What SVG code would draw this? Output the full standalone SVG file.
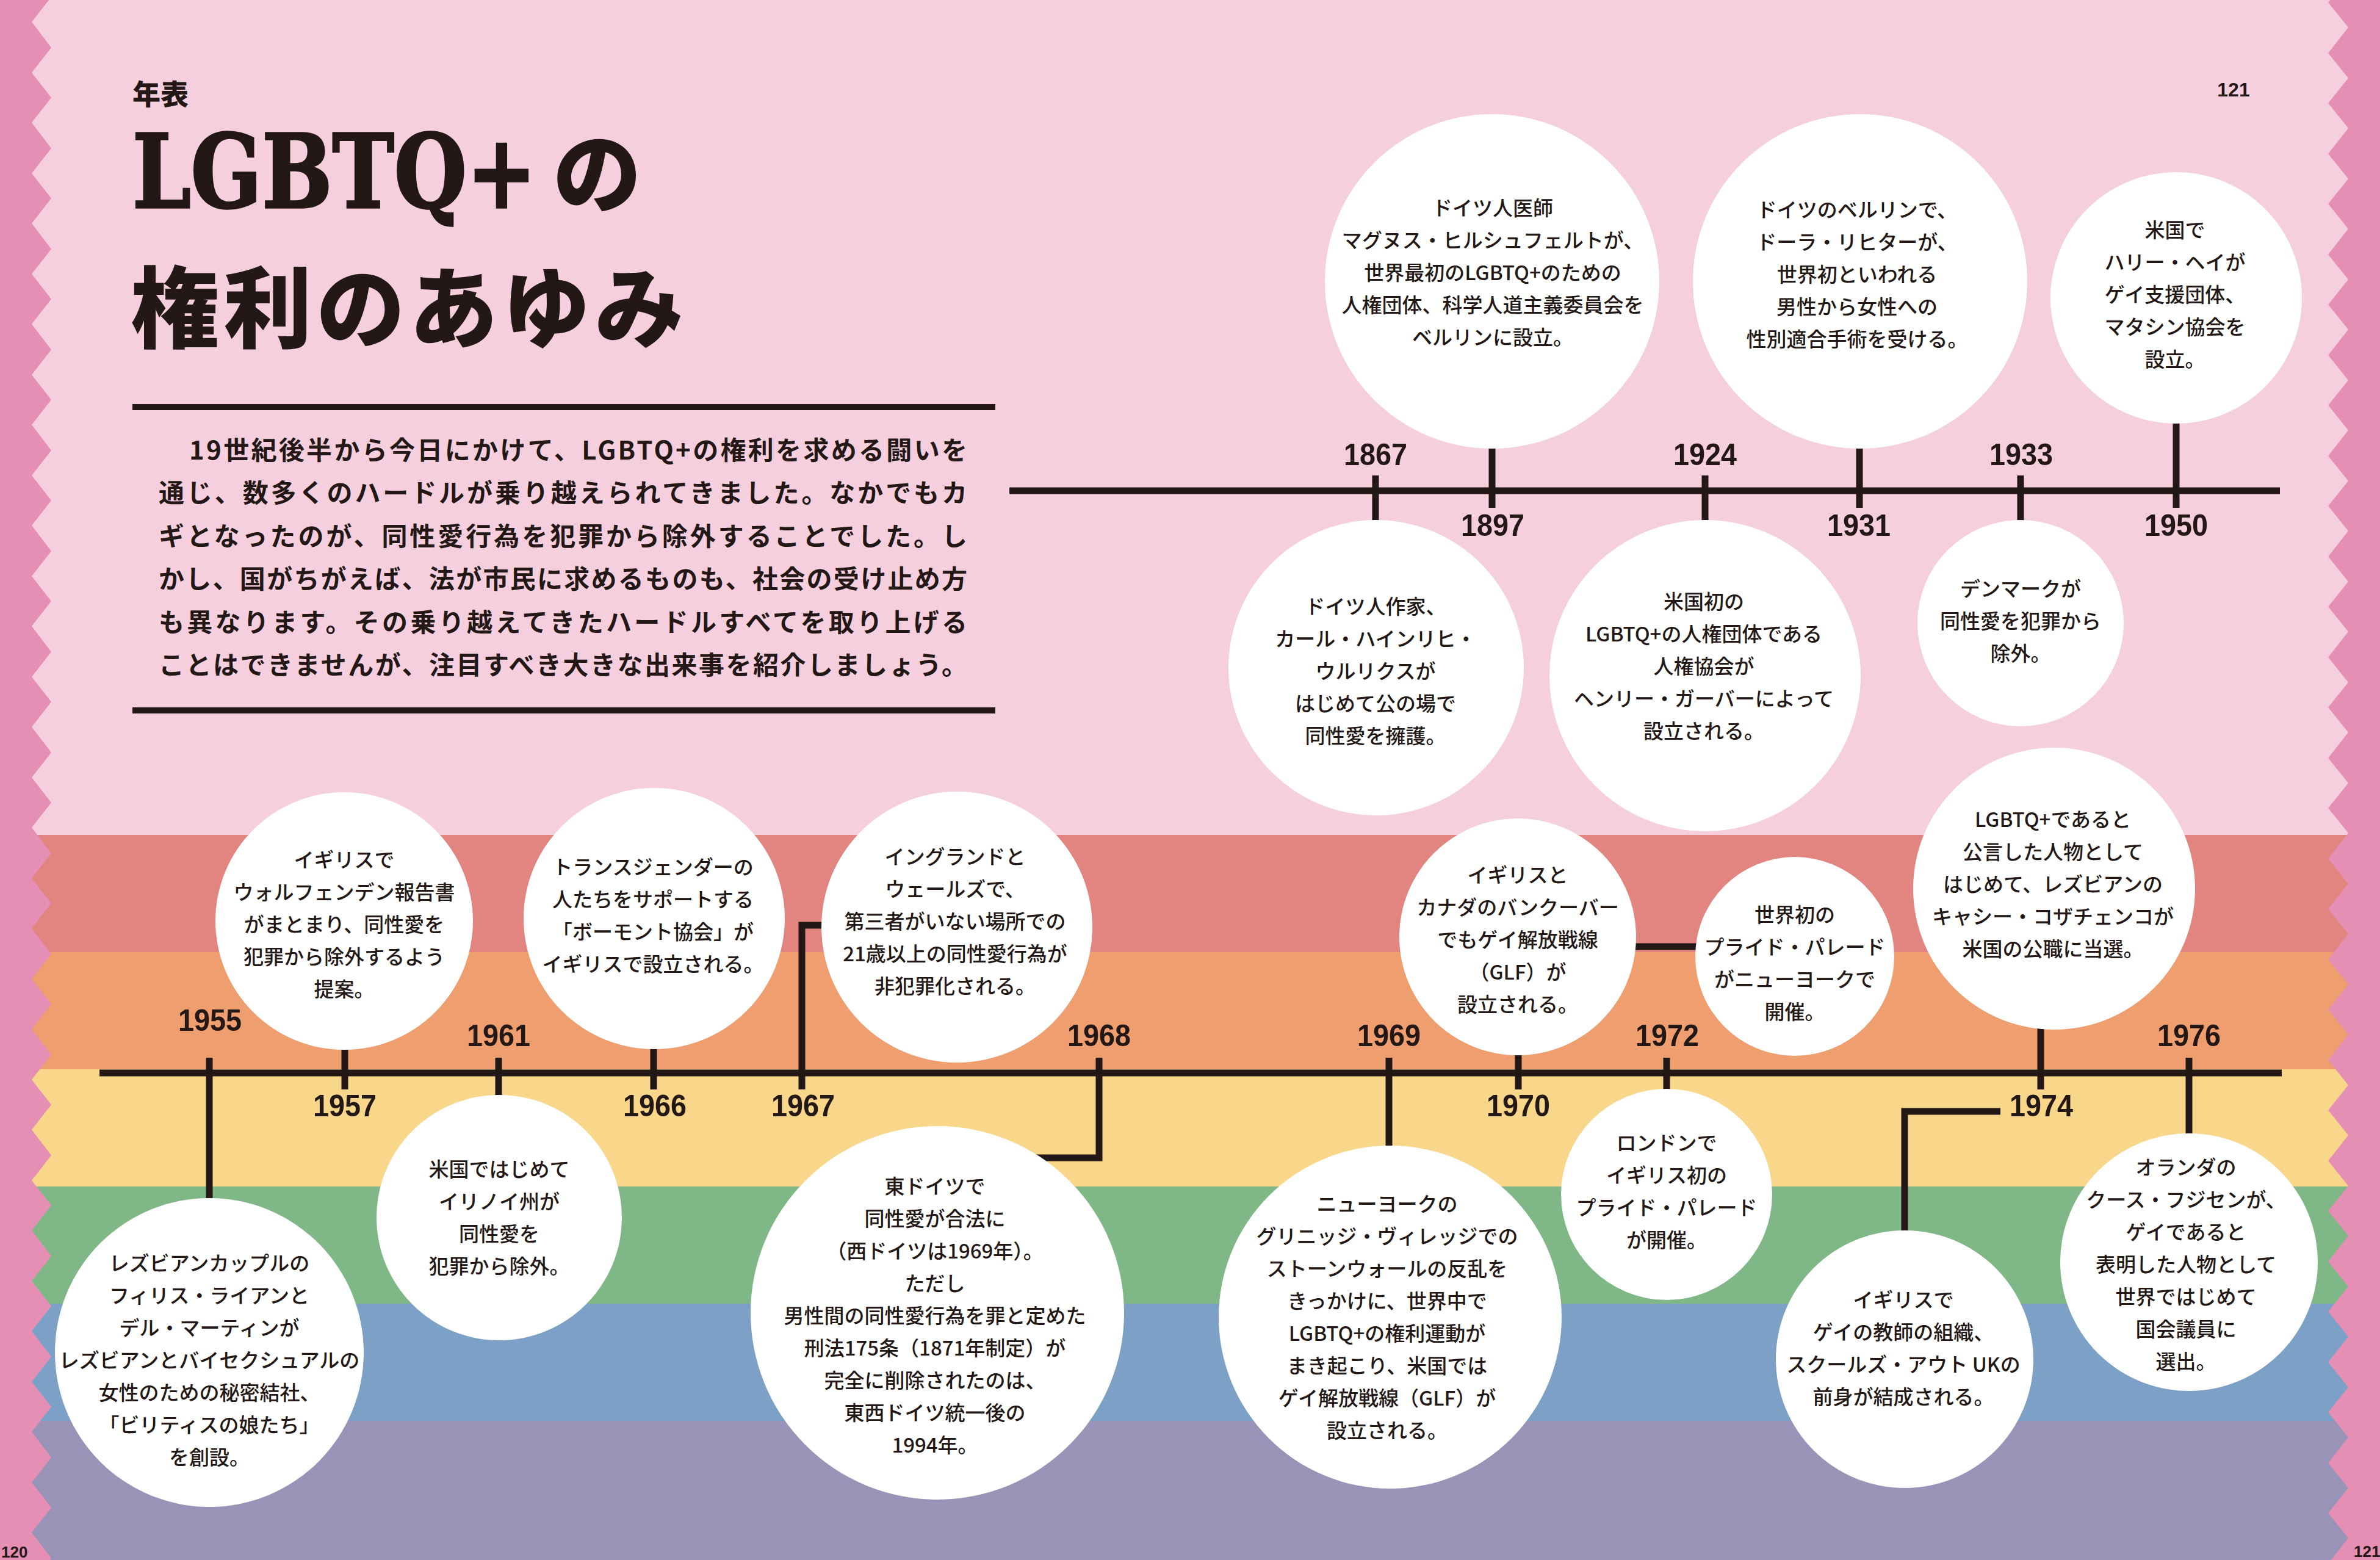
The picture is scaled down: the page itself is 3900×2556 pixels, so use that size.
<svg xmlns="http://www.w3.org/2000/svg" width="3900" height="2556" viewBox="0 0 3900 2556">
<defs>
<style>
.circ{fill:#ffffff}
.t{font-family:"Noto Sans CJK JP","Noto Sans CJK SC",sans-serif;font-size:33px;font-weight:500;fill:#231815;text-anchor:middle}
.yr{font-family:"Liberation Sans",Arial,sans-serif;font-size:50px;font-weight:700;fill:#231815;text-anchor:middle}
.ln{stroke:#231815;stroke-width:11;fill:none;stroke-linejoin:miter}
.para{font-family:"Noto Sans CJK JP",sans-serif;font-size:42px;font-weight:700;fill:#231815}
.pg{font-family:"Liberation Sans",Arial,sans-serif;font-weight:700;fill:#231815}
.ttl{font-family:"Noto Sans CJK JP",sans-serif;font-weight:900;fill:#231815}
</style>
</defs>
<g id="background">
<rect x="0" y="0" width="3900" height="1368" fill="#F6CFDF"/>
<rect x="0" y="1368" width="3900" height="192" fill="#E2847F"/>
<rect x="0" y="1560" width="3900" height="192" fill="#EE9E6F"/>
<rect x="0" y="1752" width="3900" height="192" fill="#F8D78A"/>
<rect x="0" y="1944" width="3900" height="192" fill="#80B787"/>
<rect x="0" y="2136" width="3900" height="192" fill="#7DA0C6"/>
<rect x="0" y="2328" width="3900" height="228" fill="#9A93B8"/>
<polygon fill="#E68FB4" points="0,-10 84,-5 52,36 84,78 52,119 84,160 52,201 84,243 52,284 84,325 52,366 84,408 52,449 84,490 52,531 84,573 52,614 84,655 52,696 84,738 52,779 84,820 52,861 84,903 52,944 84,985 52,1026 84,1068 52,1109 84,1150 52,1191 84,1233 52,1274 84,1315 52,1356 84,1398 52,1439 84,1480 52,1521 84,1563 52,1604 84,1645 52,1686 84,1728 52,1769 84,1810 52,1851 84,1893 52,1934 84,1975 52,2016 84,2058 52,2099 84,2140 52,2181 84,2223 52,2264 84,2305 52,2346 84,2388 52,2429 84,2470 52,2511 84,2553 52,2594 0,2594"/>
<polygon fill="#E68FB4" points="3900,-40 3848,-37 3815,4 3848,45 3815,87 3848,128 3815,169 3848,210 3815,252 3848,293 3815,334 3848,375 3815,417 3848,458 3815,499 3848,540 3815,582 3848,623 3815,664 3848,705 3815,747 3848,788 3815,829 3848,870 3815,912 3848,953 3815,994 3848,1035 3815,1077 3848,1118 3815,1159 3848,1200 3815,1242 3848,1283 3815,1324 3848,1365 3815,1407 3848,1448 3815,1489 3848,1530 3815,1572 3848,1613 3815,1654 3848,1695 3815,1737 3848,1778 3815,1819 3848,1860 3815,1902 3848,1943 3815,1984 3848,2025 3815,2067 3848,2108 3815,2149 3848,2190 3815,2232 3848,2273 3815,2314 3848,2355 3815,2397 3848,2438 3815,2479 3848,2520 3815,2562 3900,2562"/>
</g>
<g id="header">
<text class="ttl" x="217" y="171" font-size="46">年表</text>
<text transform="translate(217,340) scale(1,1.23)" x="0" y="0" textLength="662" lengthAdjust="spacingAndGlyphs" style="font-family:'DejaVu Serif',serif;font-size:136px;font-weight:700;fill:#231815;stroke:#231815;stroke-width:3">LGBTQ+</text>
<text class="ttl" x="906" y="338" font-size="145">の</text>
<text class="ttl" x="214" y="559" font-size="145" textLength="906" lengthAdjust="spacing">権利のあゆみ</text>
<rect x="217" y="662" width="1414" height="10" fill="#231815"/>
<text class="para" x="310" y="753" textLength="1275" lengthAdjust="spacing">19世紀後半から今日にかけて、LGBTQ+の権利を求める闘いを</text>
<text class="para" x="260" y="823" textLength="1325" lengthAdjust="spacing">通じ、数多くのハードルが乗り越えられてきました。なかでもカ</text>
<text class="para" x="260" y="894" textLength="1325" lengthAdjust="spacing">ギとなったのが、同性愛行為を犯罪から除外することでした。し</text>
<text class="para" x="260" y="964" textLength="1325" lengthAdjust="spacing">かし、国がちがえば、法が市民に求めるものも、社会の受け止め方</text>
<text class="para" x="260" y="1035" textLength="1325" lengthAdjust="spacing">も異なります。その乗り越えてきたハードルすべてを取り上げる</text>
<text class="para" x="260" y="1105" textLength="1325" lengthAdjust="spacing">ことはできませんが、注目すべき大きな出来事を紹介しましょう。</text>
<rect x="217" y="1159" width="1414" height="10" fill="#231815"/>
<text class="pg" x="3660" y="158" font-size="32" text-anchor="middle">121</text>
<text class="pg" x="2" y="2552" font-size="26">120</text>
<text class="pg" x="3857" y="2551" font-size="26">121</text>
</g>
<g id="connectors">
<line class="ln" x1="1654" y1="804" x2="3736" y2="804"/>
<line class="ln" x1="163" y1="1758" x2="3739" y2="1758"/>
<line class="ln" x1="2254" y1="779" x2="2254" y2="860"/>
<line class="ln" x1="2445" y1="730" x2="2445" y2="832"/>
<line class="ln" x1="2794" y1="779" x2="2794" y2="860"/>
<line class="ln" x1="3047" y1="730" x2="3047" y2="832"/>
<line class="ln" x1="3311" y1="779" x2="3311" y2="860"/>
<line class="ln" x1="3566" y1="688" x2="3566" y2="832"/>
<line class="ln" x1="343" y1="1733" x2="343" y2="1970"/>
<line class="ln" x1="565" y1="1712" x2="565" y2="1785"/>
<line class="ln" x1="817" y1="1733" x2="817" y2="1800"/>
<line class="ln" x1="1071" y1="1712" x2="1071" y2="1785"/>
<path class="ln" d="M1314,1785 V1516 H1360"/>
<path class="ln" d="M1801,1733 V1897 H1690"/>
<line class="ln" x1="2276" y1="1733" x2="2276" y2="1885"/>
<line class="ln" x1="2488" y1="1722" x2="2488" y2="1785"/>
<line class="ln" x1="2670" y1="1551" x2="2790" y2="1551"/>
<line class="ln" x1="2731" y1="1733" x2="2731" y2="1790"/>
<line class="ln" x1="3344" y1="1680" x2="3344" y2="1785"/>
<path class="ln" d="M3278,1821 H3121 V2024"/>
<line class="ln" x1="3587" y1="1733" x2="3587" y2="1865"/>
</g>
<g id="node-1867">
<text class="yr" x="2254" y="762" textLength="104" lengthAdjust="spacingAndGlyphs">1867</text>
<circle class="circ" cx="2255" cy="1094" r="242"/>
<text class="t"><tspan x="2254" y="1006">ドイツ人作家、</tspan><tspan x="2254" y="1059">カール・ハインリヒ・</tspan><tspan x="2254" y="1112">ウルリクスが</tspan><tspan x="2254" y="1165">はじめて公の場で</tspan><tspan x="2254" y="1218">同性愛を擁護。</tspan></text>
</g>
<g id="node-1897">
<text class="yr" x="2446" y="878" textLength="104" lengthAdjust="spacingAndGlyphs">1897</text>
<circle class="circ" cx="2445" cy="461" r="274"/>
<text class="t"><tspan x="2446" y="353">ドイツ人医師</tspan><tspan x="2446" y="406">マグヌス・ヒルシュフェルトが、</tspan><tspan x="2446" y="459">世界最初のLGBTQ+のための</tspan><tspan x="2446" y="512">人権団体、科学人道主義委員会を</tspan><tspan x="2446" y="565">ベルリンに設立。</tspan></text>
</g>
<g id="node-1924">
<text class="yr" x="2794" y="762" textLength="104" lengthAdjust="spacingAndGlyphs">1924</text>
<circle class="circ" cx="2794" cy="1107" r="255"/>
<text class="t"><tspan x="2792" y="998">米国初の</tspan><tspan x="2792" y="1051">LGBTQ+の人権団体である</tspan><tspan x="2792" y="1104">人権協会が</tspan><tspan x="2792" y="1157">ヘンリー・ガーバーによって</tspan><tspan x="2792" y="1210">設立される。</tspan></text>
</g>
<g id="node-1931">
<text class="yr" x="3046" y="878" textLength="104" lengthAdjust="spacingAndGlyphs">1931</text>
<circle class="circ" cx="3048" cy="461" r="274"/>
<text class="t"><tspan x="3043" y="356">ドイツのベルリンで、</tspan><tspan x="3043" y="409">ドーラ・リヒターが、</tspan><tspan x="3043" y="462">世界初といわれる</tspan><tspan x="3043" y="515">男性から女性への</tspan><tspan x="3043" y="568">性別適合手術を受ける。</tspan></text>
</g>
<g id="node-1933">
<text class="yr" x="3312" y="762" textLength="104" lengthAdjust="spacingAndGlyphs">1933</text>
<circle class="circ" cx="3311" cy="1021" r="169"/>
<text class="t"><tspan x="3311" y="977">デンマークが</tspan><tspan x="3311" y="1030">同性愛を犯罪から</tspan><tspan x="3311" y="1083">除外。</tspan></text>
</g>
<g id="node-1950">
<text class="yr" x="3566" y="878" textLength="104" lengthAdjust="spacingAndGlyphs">1950</text>
<circle class="circ" cx="3566" cy="488" r="206"/>
<text class="t"><tspan x="3564" y="389">米国で</tspan><tspan x="3564" y="442">ハリー・ヘイが</tspan><tspan x="3564" y="495">ゲイ支援団体、</tspan><tspan x="3564" y="548">マタシン協会を</tspan><tspan x="3564" y="601">設立。</tspan></text>
</g>
<g id="node-1955">
<text class="yr" x="344" y="1689" textLength="104" lengthAdjust="spacingAndGlyphs">1955</text>
<circle class="circ" cx="343" cy="2216" r="253"/>
<text class="t"><tspan x="343" y="2082">レズビアンカップルの</tspan><tspan x="343" y="2135">フィリス・ライアンと</tspan><tspan x="343" y="2188">デル・マーティンが</tspan><tspan x="343" y="2241">レズビアンとバイセクシュアルの</tspan><tspan x="343" y="2294">女性のための秘密結社、</tspan><tspan x="343" y="2347">「ビリティスの娘たち」</tspan><tspan x="343" y="2400">を創設。</tspan></text>
</g>
<g id="node-1957">
<text class="yr" x="565" y="1829" textLength="104" lengthAdjust="spacingAndGlyphs">1957</text>
<circle class="circ" cx="564" cy="1509" r="211"/>
<text class="t"><tspan x="564" y="1421">イギリスで</tspan><tspan x="564" y="1474">ウォルフェンデン報告書</tspan><tspan x="564" y="1527">がまとまり、同性愛を</tspan><tspan x="564" y="1580">犯罪から除外するよう</tspan><tspan x="564" y="1633">提案。</tspan></text>
</g>
<g id="node-1961">
<text class="yr" x="817" y="1714" textLength="104" lengthAdjust="spacingAndGlyphs">1961</text>
<circle class="circ" cx="818" cy="1995" r="201"/>
<text class="t"><tspan x="818" y="1928">米国ではじめて</tspan><tspan x="818" y="1981">イリノイ州が</tspan><tspan x="818" y="2034">同性愛を</tspan><tspan x="818" y="2087">犯罪から除外。</tspan></text>
</g>
<g id="node-1966">
<text class="yr" x="1073" y="1829" textLength="104" lengthAdjust="spacingAndGlyphs">1966</text>
<circle class="circ" cx="1072" cy="1505" r="214"/>
<text class="t"><tspan x="1070" y="1433">トランスジェンダーの</tspan><tspan x="1070" y="1486">人たちをサポートする</tspan><tspan x="1070" y="1539">「ボーモント協会」が</tspan><tspan x="1070" y="1592">イギリスで設立される。</tspan></text>
</g>
<g id="node-1967">
<text class="yr" x="1316" y="1829" textLength="104" lengthAdjust="spacingAndGlyphs">1967</text>
<circle class="circ" cx="1568" cy="1519" r="222"/>
<text class="t"><tspan x="1565" y="1416">イングランドと</tspan><tspan x="1565" y="1469">ウェールズで、</tspan><tspan x="1565" y="1522">第三者がいない場所での</tspan><tspan x="1565" y="1575">21歳以上の同性愛行為が</tspan><tspan x="1565" y="1628">非犯罪化される。</tspan></text>
</g>
<g id="node-1968">
<text class="yr" x="1801" y="1714" textLength="104" lengthAdjust="spacingAndGlyphs">1968</text>
<circle class="circ" cx="1536" cy="2151" r="306"/>
<text class="t"><tspan x="1532" y="1956">東ドイツで</tspan><tspan x="1532" y="2009">同性愛が合法に</tspan><tspan x="1532" y="2062">（西ドイツは1969年）。</tspan><tspan x="1532" y="2115">ただし</tspan><tspan x="1532" y="2168">男性間の同性愛行為を罪と定めた</tspan><tspan x="1532" y="2221">刑法175条（1871年制定）が</tspan><tspan x="1532" y="2274">完全に削除されたのは、</tspan><tspan x="1532" y="2327">東西ドイツ統一後の</tspan><tspan x="1532" y="2380">1994年。</tspan></text>
</g>
<g id="node-1969">
<text class="yr" x="2276" y="1714" textLength="104" lengthAdjust="spacingAndGlyphs">1969</text>
<circle class="circ" cx="2278" cy="2158" r="281"/>
<text class="t"><tspan x="2273" y="1985">ニューヨークの</tspan><tspan x="2273" y="2038">グリニッジ・ヴィレッジでの</tspan><tspan x="2273" y="2091">ストーンウォールの反乱を</tspan><tspan x="2273" y="2144">きっかけに、世界中で</tspan><tspan x="2273" y="2197">LGBTQ+の権利運動が</tspan><tspan x="2273" y="2250">まき起こり、米国では</tspan><tspan x="2273" y="2303">ゲイ解放戦線（GLF）が</tspan><tspan x="2273" y="2356">設立される。</tspan></text>
</g>
<g id="node-1970">
<text class="yr" x="2488" y="1829" textLength="104" lengthAdjust="spacingAndGlyphs">1970</text>
<circle class="circ" cx="2487" cy="1535" r="194"/>
<text class="t"><tspan x="2487" y="1446">イギリスと</tspan><tspan x="2487" y="1499">カナダのバンクーバー</tspan><tspan x="2487" y="1552">でもゲイ解放戦線</tspan><tspan x="2487" y="1605">（GLF）が</tspan><tspan x="2487" y="1658">設立される。</tspan></text>
</g>
<g id="node-1970-parade">
<circle class="circ" cx="2941" cy="1567" r="163"/>
<text class="t"><tspan x="2941" y="1511">世界初の</tspan><tspan x="2941" y="1564">プライド・パレード</tspan><tspan x="2941" y="1617">がニューヨークで</tspan><tspan x="2941" y="1670">開催。</tspan></text>
</g>
<g id="node-1972">
<text class="yr" x="2732" y="1714" textLength="104" lengthAdjust="spacingAndGlyphs">1972</text>
<circle class="circ" cx="2731" cy="1957" r="173"/>
<text class="t"><tspan x="2731" y="1885">ロンドンで</tspan><tspan x="2731" y="1938">イギリス初の</tspan><tspan x="2731" y="1991">プライド・パレード</tspan><tspan x="2731" y="2044">が開催。</tspan></text>
</g>
<g id="node-1974">
<text class="yr" x="3345" y="1829" textLength="104" lengthAdjust="spacingAndGlyphs">1974</text>
<circle class="circ" cx="3366" cy="1456" r="231"/>
<text class="t"><tspan x="3364" y="1355">LGBTQ+であると</tspan><tspan x="3364" y="1408">公言した人物として</tspan><tspan x="3364" y="1461">はじめて、レズビアンの</tspan><tspan x="3364" y="1514">キャシー・コザチェンコが</tspan><tspan x="3364" y="1567">米国の公職に当選。</tspan></text>
</g>
<g id="node-1974-uk">
<circle class="circ" cx="3121" cy="2227" r="211"/>
<text class="t"><tspan x="3119" y="2142">イギリスで</tspan><tspan x="3119" y="2195">ゲイの教師の組織、</tspan><tspan x="3119" y="2248">スクールズ・アウト UKの</tspan><tspan x="3119" y="2301">前身が結成される。</tspan></text>
</g>
<g id="node-1976">
<text class="yr" x="3587" y="1714" textLength="104" lengthAdjust="spacingAndGlyphs">1976</text>
<circle class="circ" cx="3587" cy="2068" r="211"/>
<text class="t"><tspan x="3582" y="1925">オランダの</tspan><tspan x="3582" y="1978">クース・フジセンが、</tspan><tspan x="3582" y="2031">ゲイであると</tspan><tspan x="3582" y="2084">表明した人物として</tspan><tspan x="3582" y="2137">世界ではじめて</tspan><tspan x="3582" y="2190">国会議員に</tspan><tspan x="3582" y="2243">選出。</tspan></text>
</g>
</svg>
